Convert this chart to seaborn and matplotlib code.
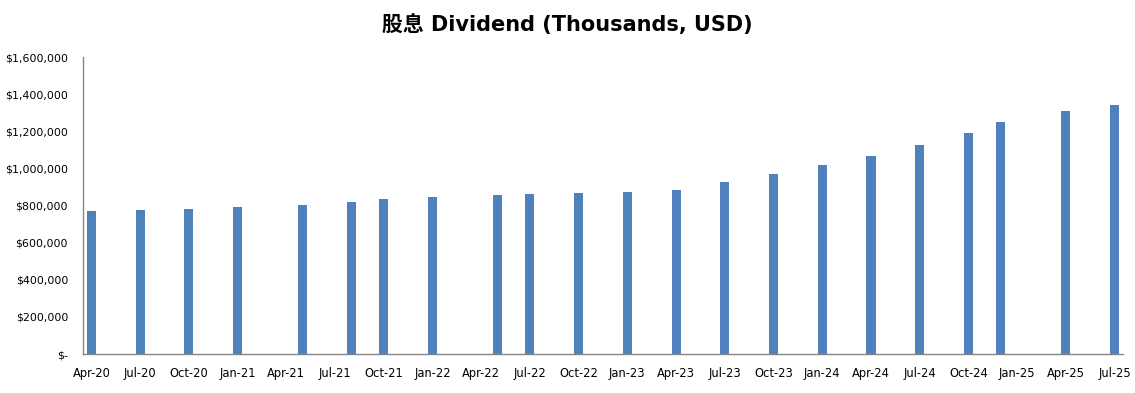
import numpy as np
import pandas as pd
import seaborn as sns
import matplotlib.pyplot as plt
from matplotlib.ticker import FuncFormatter

# payment months and dividend amounts (thousands, USD)
pay_months = ["2020-04", "2020-07", "2020-10", "2021-01", "2021-05", "2021-08",
              "2021-10", "2022-01", "2022-05", "2022-07", "2022-10", "2023-01",
              "2023-04", "2023-07", "2023-10", "2024-01", "2024-04", "2024-07",
              "2024-10", "2024-12", "2025-04", "2025-07"]
dividends = [771000, 777000, 782000, 793000, 804000, 820000,
             836000, 847000, 858000, 863000, 868000, 874000,
             885000, 928000, 971000, 1019000, 1068000, 1127000,
             1192000, 1251000, 1311000, 1343000]
tick_labels = ["Apr-20", "Jul-20", "Oct-20", "Jan-21", "Apr-21", "Jul-21", "Oct-21",
               "Jan-22", "Apr-22", "Jul-22", "Oct-22", "Jan-23", "Apr-23", "Jul-23",
               "Oct-23", "Jan-24", "Apr-24", "Jul-24", "Oct-24", "Jan-25", "Apr-25",
               "Jul-25"]

start = pd.Period("2020-04", freq="M")
df = pd.DataFrame({"month": pay_months, "dividend": dividends})
# month slot centre on a monthly date axis
df["pos"] = [(pd.Period(m, freq="M") - start).n + 0.5 for m in df["month"]]

sns.set_style("white")
plt.rcParams["font.family"] = ["DejaVu Sans", "Noto Sans CJK SC"]
plt.rcParams["text.color"] = "black"
plt.rcParams["xtick.labelcolor"] = "black"
plt.rcParams["ytick.labelcolor"] = "black"

fig = plt.figure(figsize=(11.35, 3.93), dpi=100)
ax = fig.add_axes([0.0734, 0.0992, 0.9158, 0.755])

sns.barplot(data=df, x="pos", y="dividend", native_scale=True, width=0.28,
            color="#4F81BD", saturation=1, linewidth=0, ax=ax)

ax.set_xlim(0, 64)
ax.set_ylim(0, 1600000)
ax.set_yticks(np.arange(0, 1600001, 200000))
ax.yaxis.set_major_formatter(FuncFormatter(lambda v, p: "$-" if v == 0 else f"${v:,.0f}"))

# ticks at month boundaries, labels centred under the month slot
quarter_starts = np.arange(0, 64, 3)
ax.set_xticks(quarter_starts)
ax.set_xticklabels([])
ax.set_xticks(quarter_starts + 0.5, minor=True)
ax.set_xticklabels(tick_labels, minor=True)

ax.tick_params(axis="x", which="major", length=4, width=1, color="#868686", direction="out")
ax.tick_params(axis="x", which="minor", length=0, pad=9, labelsize=8.3)
ax.tick_params(axis="y", length=4, width=1, color="#868686", direction="out", pad=7, labelsize=7.9)

ax.set_xlabel("")
ax.set_ylabel("")
for side in ["top", "right"]:
    ax.spines[side].set_visible(False)
for side in ["left", "bottom"]:
    ax.spines[side].set_color("#868686")
    ax.spines[side].set_linewidth(1)

fig.text(0.5, 0.938, "股息 Dividend (Thousands, USD)", ha="center", va="center",
         fontsize=15, fontweight="bold", color="black")

fig.savefig("out.png", dpi=100)
